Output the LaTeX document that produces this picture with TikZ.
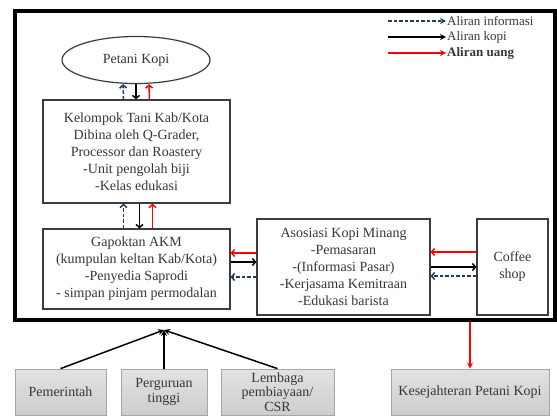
\documentclass[tikz,border=0pt]{standalone}
\usepackage{fontspec}
\setmainfont{Liberation Serif}
\usetikzlibrary{arrows.meta,calc,positioning,shapes.geometric}
\definecolor{KopiNavy}{HTML}{1F3B5F}
\definecolor{KopiRed}{HTML}{FF0000}
\definecolor{KopiText}{HTML}{363636}
\definecolor{KopiEdge}{HTML}{3C3C3C}
\definecolor{KopiGrayTop}{HTML}{E2E2E2}
\definecolor{KopiGrayBot}{HTML}{CDCDCD}
\definecolor{KopiGrayLine}{HTML}{A6A6A6}

\begin{document}
\begin{tikzpicture}[
      x=1pt,y=-1pt,
      every node/.style={font=\fontsize{14}{17}\selectfont,text=KopiText},
      actor/.style={rectangle,draw=KopiEdge,line width=1.2pt,fill=white,
        align=center,inner sep=2pt},
      farmer/.style={ellipse,draw=KopiEdge,line width=1.2pt,fill=white,
        inner sep=1pt},
      support/.style={rectangle,draw=KopiGrayLine,line width=0.8pt,
        top color=KopiGrayTop,bottom color=KopiGrayBot,align=center,
        inner sep=1pt,minimum height=46pt,
        font=\fontsize{14}{14.5}\selectfont},
      infoflow/.style={-{Straight Barb[length=3pt,width=7pt]},color=KopiNavy,
        line width=1.5pt,dash pattern=on 3.5pt off 2pt},
      coffeeflow/.style={-{Straight Barb[length=3pt,width=7pt]},color=black,
        line width=1.5pt},
      moneyflow/.style={-{Straight Barb[length=3pt,width=7pt]},color=KopiRed,
        line width=1.5pt},
      legendtip/.style={-{Stealth[length=6pt,width=6pt]}},
      legendtext/.style={anchor=west,inner sep=1pt,
        font=\fontsize{13}{15}\selectfont}
    ]
      \useasboundingbox (0,0) rectangle (557,416);

      % outer frame
      \node[draw=black,line width=4pt,minimum width=540pt,minimum height=309pt,
        inner sep=0pt] (frame) at (285,165.5) {};

      % legend
      \node[legendtext] (leginfo) at (446,21) {Aliran informasi};
      \node[legendtext] (legkopi) at (446,37) {Aliran kopi};
      \node[legendtext,font=\fontsize{13}{15}\selectfont\bfseries] (leguang)
        at (446,53) {Aliran uang};
      \draw[infoflow,legendtip] ([xshift=-58pt]leginfo.west) -- (leginfo.west);
      \draw[coffeeflow,legendtip] ([xshift=-58pt]legkopi.west) -- (legkopi.west);
      \draw[moneyflow,legendtip] ([xshift=-58pt]leguang.west) -- (leguang.west);

      % actors inside the frame
      \node[farmer,minimum width=148pt,minimum height=47pt] (petani)
        at (136,60) {Petani Kopi};
      \node[actor,minimum width=187pt,minimum height=103pt] (kelompok)
        at (136.5,151.5) {Kelompok Tani Kab/Kota\\Dibina oleh Q-Grader,\\
        Processor dan Roastery\\-Unit pengolah biji\\-Kelas edukasi};
      \node[actor,minimum width=187pt,minimum height=80pt] (gapoktan)
        at (136.5,269) {Gapoktan AKM\\(kumpulan keltan Kab/Kota)\\
        -Penyedia Saprodi\\- simpan pinjam permodalan};
      \node[actor,minimum width=173pt,minimum height=96pt] (asosiasi)
        at (343.5,267) {Asosiasi Kopi Minang\\-Pemasaran\\
        -(Informasi Pasar)\\-Kerjasama Kemitraan\\-Edukasi barista};
      \node[actor,minimum width=71pt,minimum height=96pt] (coffee)
        at (512.5,267) {Coffee\\shop};

      % vertical flows
      \draw[infoflow] ([xshift=-13pt]kelompok.north) -- ([xshift=-13pt]petani.south);
      \draw[coffeeflow] (petani.south) -- (petani.south |- kelompok.north);
      \draw[moneyflow] ([xshift=13pt]kelompok.north) -- ([xshift=13pt]petani.south);

      \draw[infoflow] ([xshift=-13pt]gapoktan.north) -- ([xshift=-13pt]kelompok.south);
      \draw[coffeeflow] ([xshift=3pt]kelompok.south) -- ([xshift=3pt]gapoktan.north);
      \draw[moneyflow] ([xshift=16pt]gapoktan.north) -- ([xshift=16pt]kelompok.south);

      % horizontal flows
      \draw[moneyflow] ([yshift=14pt]asosiasi.west) -- ([yshift=14pt]asosiasi.west -| gapoktan.east);
      \draw[coffeeflow] ([yshift=5pt]asosiasi.west -| gapoktan.east) -- ([yshift=5pt]asosiasi.west);
      \draw[infoflow] ([yshift=-10pt]asosiasi.west) -- ([yshift=-10pt]asosiasi.west -| gapoktan.east);

      \draw[moneyflow] ([yshift=15pt]coffee.west) -- ([yshift=15pt]coffee.west -| asosiasi.east);
      \draw[coffeeflow] (asosiasi.east |- coffee.west) -- (coffee.west);
      \draw[infoflow] ([yshift=-9pt]coffee.west) -- ([yshift=-9pt]coffee.west -| asosiasi.east);

      % supporting parties below the frame
      \node[support,minimum width=91pt] (pemerintah) at (60.5,392) {Pemerintah};
      \node[support,minimum width=86pt] (perguruan) at (164,392)
        {Perguruan\\tinggi};
      \node[support,minimum width=113pt] (lembaga) at (277.5,392)
        {Lembaga\\pembiayaan/\\CSR};
      \node[support,minimum width=158pt] (sejahtera) at (470,392)
        {Kesejahteran Petani Kopi};

      \coordinate (apex) at (164,330);
      \draw[coffeeflow,legendtip] (pemerintah.north) -- (apex);
      \draw[coffeeflow,legendtip] (perguruan.north) -- (apex);
      \draw[coffeeflow,legendtip] (lembaga.north) -- (apex);

      \draw[moneyflow,legendtip] (frame.south -| sejahtera.north) -- (sejahtera.north);
    \end{tikzpicture}
\end{document}
